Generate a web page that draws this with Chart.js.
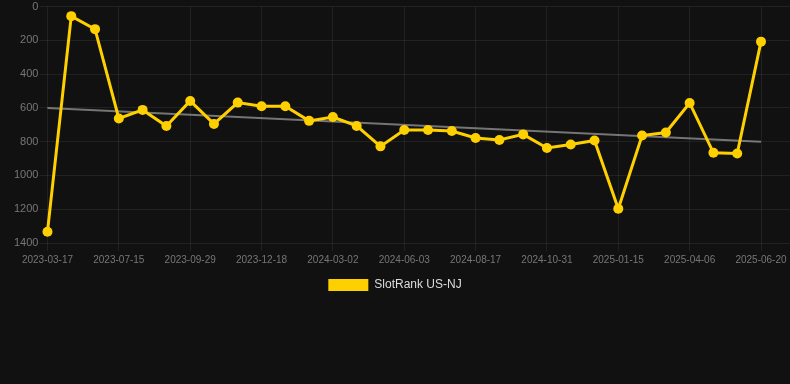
<!DOCTYPE html>
<html>
<head>
<meta charset="utf-8">
<script src="https://cdn.jsdelivr.net/npm/chart.js@4/dist/chart.umd.min.js"></script>
<style>
  html, body { margin: 0; padding: 0; background: #111111; }
  #wrap { width: 790px; height: 301px; position: relative; }
  #filler { width: 790px; height: 83px; }
</style>
</head>
<body>
<div id="wrap"><canvas id="rankChart"></canvas></div>
<div id="filler"></div>
<script>
const dates = [
  "2023-03-17", "2023-05-04", "2023-06-10", "2023-07-15", "2023-08-08", "2023-09-03",
  "2023-09-29", "2023-10-25", "2023-11-21", "2023-12-18", "2024-01-12", "2024-02-06",
  "2024-03-02", "2024-04-02", "2024-05-05", "2024-06-03", "2024-06-28", "2024-07-23",
  "2024-08-17", "2024-09-11", "2024-10-06", "2024-10-31", "2024-11-25", "2024-12-20",
  "2025-01-15", "2025-02-09", "2025-03-12", "2025-04-06", "2025-05-01", "2025-05-26",
  "2025-06-20",
];

const rankNJ = [
  1333, 57, 134, 663, 612, 707, 559, 695, 569, 591, 591, 677, 654, 707, 828, 731,
  731, 737, 778, 790, 757, 838, 817, 793, 1197, 764, 746, 571, 866, 870, 208,
];

// trend line end points (first and last date)
const trendEnds = [601, 801];

const yTicks = { min: 0, max: 1400, step: 200 };

const yellow = "rgb(255, 208, 0)";
const gridColor = "rgba(255, 255, 255, 0.07)";
const tickColor = "#777777";

const trendData = [
  { x: dates[0], y: trendEnds[0] },
  { x: dates[dates.length - 1], y: trendEnds[1] },
];

let ctx = document.getElementById("rankChart").getContext("2d");
let rankChart = new Chart(ctx, {
  type: "line",
  data: {
    labels: dates,
    datasets: [
      {
        label: "SlotRank US-NJ",
        data: rankNJ,
        borderColor: yellow,
        backgroundColor: yellow,
        borderWidth: 3,
        pointRadius: 5,
        pointHoverRadius: 6,
        pointBackgroundColor: yellow,
        pointBorderWidth: 0,
        tension: 0,
        order: 1,
      },
      {
        label: "trend",
        data: trendData,
        borderColor: "rgba(160, 160, 160, 0.7)",
        borderWidth: 2,
        pointRadius: 0,
        fill: false,
        order: 2,
      },
    ],
  },
  options: {
    responsive: true,
    maintainAspectRatio: false,
    animation: false,
    scales: {
      x: {
        type: "category",
        grid: { color: gridColor, tickLength: 8 },
        border: { display: false },
        ticks: {
          color: tickColor,
          font: { size: 10 },
          maxRotation: 0,
          autoSkip: false,
          callback: function (value, index) {
            return index % 3 === 0 ? this.getLabelForValue(value) : null;
          },
        },
      },
      y: {
        reverse: true,
        min: yTicks.min,
        max: yTicks.max,
        grid: { color: gridColor, tickLength: 8 },
        border: { display: false },
        afterFit: (scale) => {
          scale.width += 13;
        },
        ticks: {
          color: tickColor,
          font: { size: 11, lineHeight: 1 },
          stepSize: yTicks.step,
          padding: 1,
          callback: (value) => String(value),
        },
      },
      yRight: {
        position: "right",
        reverse: true,
        min: yTicks.min,
        max: yTicks.max,
        grid: { color: gridColor, drawOnChartArea: false, tickLength: 29 },
        border: { display: false },
        ticks: { display: false, stepSize: yTicks.step },
      },
    },
    plugins: {
      legend: {
        position: "bottom",
        labels: {
          color: "#dddddd",
          font: { size: 12 },
          boxWidth: 40,
          boxHeight: 12,
          generateLabels: (chart) =>
            Chart.defaults.plugins.legend.labels
              .generateLabels(chart)
              .filter((item) => item.text !== "trend")
              .map((item) => ({ ...item, lineWidth: 0 })),
        },
      },
      tooltip: { enabled: true },
    },
  },
});
</script>
</body>
</html>
